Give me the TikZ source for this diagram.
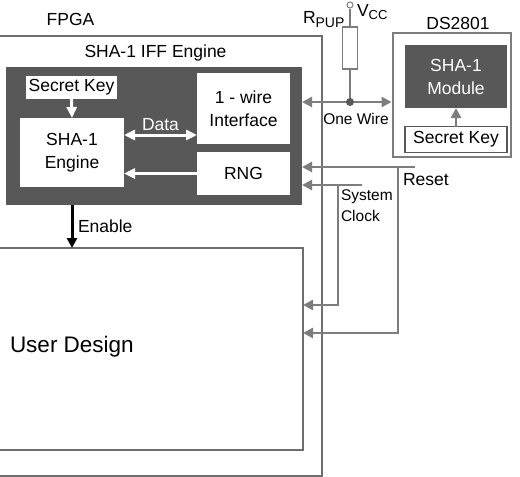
\documentclass[tikz,border=0pt]{standalone}
\usepackage{fontspec}
\setmainfont{Liberation Sans}
\usetikzlibrary{positioning,arrows.meta,calc}
\definecolor{iffDark}{RGB}{88,88,88}
\definecolor{iffGray}{RGB}{125,125,125}
\definecolor{iffLine}{RGB}{110,110,110}
\tikzset{
    base/.style={font=\fontsize{17.5}{23}\selectfont, align=center, outer sep=0pt, inner sep=0pt},
    frame/.style={base, rectangle, draw=iffLine, line width=1.5pt},
    core/.style={base, rectangle, fill=iffDark},
    block/.style={base, rectangle, fill=white},
    darkblock/.style={base, rectangle, fill=iffDark, text=white},
    keybox/.style={base, rectangle, draw=iffDark, line width=1.5pt, fill=white},
    lbl/.style={base},
    wline/.style={line width=3pt, color=white, >={Triangle[length=11pt,width=10pt]}},
    gline/.style={line width=2.5pt, color=iffGray, >={Triangle[length=10pt,width=10pt]}},
    eline/.style={line width=3pt, color=black, >={Triangle[length=10pt,width=10pt]}}
}
\begin{document}
\begin{tikzpicture}[x=1pt, y=-1pt]
  \useasboundingbox (0,0) rectangle (520,477);
  % FPGA side
  \node[frame, minimum width=327pt, minimum height=440pt] (fpga) at (158.5,256) {};
  \node[lbl] (fpgalbl) at (70.5,19) {FPGA};
  \node[lbl] (ifflbl) at (155.5,53) {SHA-1 IFF Engine};
  \node[core, minimum width=296pt, minimum height=138pt] (core) at (154,136) {};
  \node[block, minimum width=91pt, minimum height=23pt] (skey) at (71.5,87.5) {Secret Key};
  \node[block, minimum width=104pt, minimum height=69pt] (seng) at (72,152.5) {SHA-1\\Engine};
  \node[block, minimum width=93pt, minimum height=71pt] (wire) at (243.5,108.5) {1 - wire\\Interface};
  \node[block, minimum width=93pt, minimum height=43pt] (rng) at (243.5,173.5) {RNG};
  \node[frame, minimum width=308pt, minimum height=202pt, anchor=north east] (user) at (303,248) {};
  \node[lbl, font=\fontsize{22.5}{26}\selectfont, anchor=west] (userlbl) at (10,347) {User Design};

  % paths inside the engine
  \draw[wline,->] (skey.south) -- (seng.north);
  \draw[wline,<->] ([yshift=17.5pt]seng.east) coordinate (dL) -- (dL -| wire.west)
      node[midway, above=4pt, lbl, text=white] {Data};
  \draw[wline,->] (rng.west) -- (rng.west -| seng.east);
  \draw[eline,->] (core.south -| seng) -- (user.north -| seng)
      node[midway, right=6pt, lbl] {Enable};

  % DS2801
  \node[rectangle, draw=iffGray, line width=2pt, fill=white, minimum width=118pt, minimum height=124pt] (ds) at (451.5,95) {};
  \node[lbl] (dslbl) at (458,23) {DS2801};
  \node[darkblock, minimum width=102pt, minimum height=63pt] (module) at (456,76.5) {SHA-1\\Module};
  \node[keybox, minimum width=102pt, minimum height=26pt] (dskey) at (456,139.5) {Secret Key};
  \draw[gline,->] (dskey.north) -- (module.south);

  % pull-up and one wire
  \coordinate (jn) at (350,102);
  \node[circle, draw=iffGray, line width=1pt, fill=white, minimum size=6pt, inner sep=0pt] (vcc) at (350,5) {};
  \node[rectangle, draw=iffGray, line width=1.5pt, fill=white, minimum width=15pt, minimum height=42pt] (rpup) at (350,48) {};
  \draw[iffGray, line width=1.5pt] (vcc) -- (rpup.north);
  \draw[iffGray, line width=1.5pt] (rpup.south) -- (jn);
  \draw[gline,<->] (core.east |- jn) -- (ds.west |- jn);
  \fill[iffDark] (jn) circle (4pt);
  \node[lbl, anchor=base west] (rlbl) at (303,23) {R\raisebox{-4pt}{\fontsize{14}{14}\selectfont PUP}};
  \node[lbl, anchor=base west] (vlbl) at (357,16) {V\raisebox{-3pt}{\fontsize{13}{13}\selectfont CC}};
  \node[lbl, font=\fontsize{15.5}{19}\selectfont] (owlbl) at (356,119) {One Wire};

  % reset and clock
  \coordinate (rsT) at (415,167);
  \coordinate (rsV) at (398,167);
  \coordinate (rsB) at (398,333);
  \coordinate (ckT) at (362,185);
  \coordinate (ckV) at (338,185);
  \coordinate (ckB) at (338,305);
  \draw[gline,->] (rsT) -- (rsT -| core.east);
  \draw[gline,->] (rsV) -- (rsB) -- (rsB -| user.east);
  \draw[gline,->] (ckT) -- (ckT -| core.east);
  \draw[gline,->] (ckV) -- (ckB) -- (ckB -| user.east);
  \node[lbl, anchor=west] (rslbl) at (403,180) {Reset};
  \node[lbl, font=\fontsize{15.5}{21}\selectfont, anchor=north west, align=left] (cklbl) at (341,190) {System\\Clock};
\end{tikzpicture}
\end{document}
